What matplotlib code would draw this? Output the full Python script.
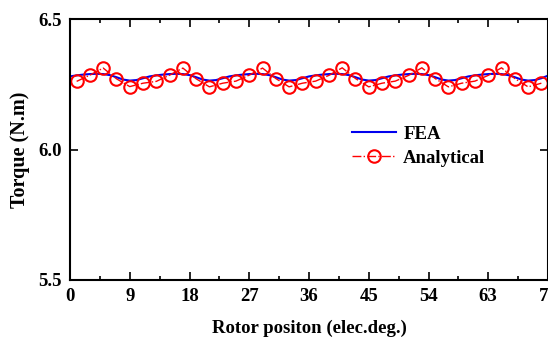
import numpy as np
import matplotlib
matplotlib.use('Agg')
import matplotlib.pyplot as plt
from matplotlib.ticker import MultipleLocator

plt.rcParams['font.family'] = ['Liberation Serif', 'DejaVu Serif']
plt.rcParams['font.weight'] = 'bold'
plt.rcParams['font.size'] = 13

# FEA torque, read every 1 elec.deg from 0 to 72
fea_x = list(range(0, 73))
fea_y = [6.280, 6.284, 6.287, 6.289, 6.290, 6.289, 6.285, 6.277, 6.268, 6.264, 6.266, 6.273,
         6.280, 6.284, 6.287, 6.289, 6.290, 6.289, 6.285, 6.277, 6.268, 6.264, 6.266, 6.273,
         6.280, 6.284, 6.287, 6.289, 6.290, 6.289, 6.285, 6.277, 6.268, 6.264, 6.266, 6.273,
         6.280, 6.284, 6.287, 6.289, 6.290, 6.289, 6.285, 6.277, 6.268, 6.264, 6.266, 6.273,
         6.280, 6.284, 6.287, 6.289, 6.290, 6.289, 6.285, 6.277, 6.268, 6.264, 6.266, 6.273,
         6.280, 6.284, 6.287, 6.289, 6.290, 6.289, 6.285, 6.277, 6.268, 6.264, 6.266, 6.273,
         6.283]

# analytical torque, points every 2 elec.deg
ana_x = list(range(1, 73, 2))
ana_y = [6.261, 6.285, 6.312, 6.271, 6.241, 6.254,
         6.261, 6.285, 6.312, 6.271, 6.240, 6.254,
         6.262, 6.285, 6.312, 6.272, 6.240, 6.254,
         6.262, 6.284, 6.313, 6.272, 6.240, 6.254,
         6.262, 6.284, 6.313, 6.272, 6.240, 6.254,
         6.262, 6.284, 6.313, 6.272, 6.240, 6.254]

fig = plt.figure(figsize=(5.48, 3.37), dpi=100)
ax = fig.add_axes([70/548, 1-280/337, 478/548, 261/337])

ax.plot(fea_x, fea_y, color='#0000ee', lw=1.5, label='FEA')
ax.plot(ana_x, ana_y, color='red', lw=1.0, ls='-.', marker='o', ms=9,
        mfc='none', mec='red', mew=1.5, label='Analytical')

ax.set_xlim(0, 72)
ax.set_ylim(5.5, 6.5)
ax.xaxis.set_major_locator(MultipleLocator(9))
ax.xaxis.set_minor_locator(MultipleLocator(4.5))
ax.yaxis.set_major_locator(MultipleLocator(0.5))
ax.yaxis.set_major_formatter(matplotlib.ticker.FormatStrFormatter('%.1f'))
ax.tick_params(which='both', direction='in', top=True, right=True, width=1.2)
ax.tick_params(which='major', length=6, pad=6, labelsize=13.5)
ax.tick_params(which='minor', length=3)
for lab in ax.get_xticklabels() + ax.get_yticklabels():
    lab.set_fontweight('bold')
for s in ax.spines.values():
    s.set_linewidth(1.5)

ax.set_xlabel('Rotor positon (elec.deg.)', fontweight='bold', fontsize=13.5, labelpad=10)
ax.set_ylabel('Torque (N.m)', fontweight='bold', fontsize=14.5, labelpad=6)

ax.legend(loc='upper left', bbox_to_anchor=(0.554, 0.655), frameon=False,
          handlelength=2.35, handletextpad=0.4, labelspacing=0.35, numpoints=1,
          prop={'weight': 'bold', 'size': 13.5})

fig.savefig('out.png', dpi=100)
